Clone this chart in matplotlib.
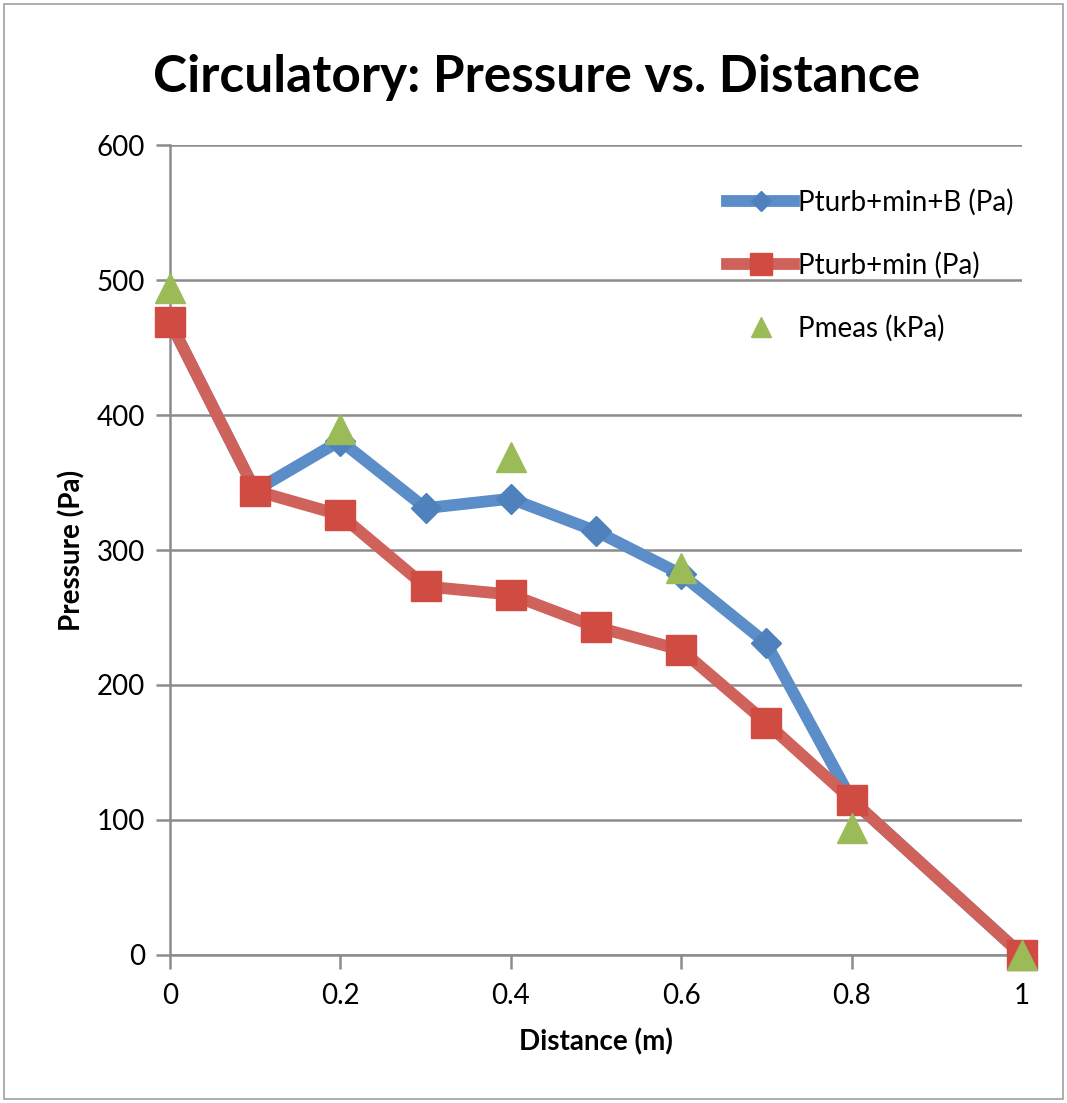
import matplotlib
matplotlib.use('Agg')
import matplotlib.pyplot as plt
from matplotlib.patches import Rectangle

plt.rcParams['font.family'] = ['Lato', 'DejaVu Sans']

# data
distance = [0, 0.1, 0.2, 0.3, 0.4, 0.5, 0.6, 0.7, 0.8, 1.0]
p_turb_min_b = [469, 344, 381, 331, 338, 314, 282, 231, 115, 0]
p_turb_min = [469, 344, 326, 273, 267, 243, 226, 172, 115, 0]
meas_distance = [0, 0.2, 0.4, 0.6, 0.8, 1.0]
p_meas = [494, 390, 369, 287, 94, 0]

blue = '#4F81BD'
red = '#C0504D'
green = '#9BBB59'
grid_col = '#8C8C8C'

fig = plt.figure(figsize=(10.67, 11.03), dpi=100)
ax = fig.add_axes([0.1593, 0.1342, 0.7985, 0.7343])

# outer chart border
fig.patches.append(Rectangle((0.004, 0.004), 0.992, 0.992, transform=fig.transFigure,
                             fill=False, edgecolor='#A0A0A0', linewidth=1.2))

ax.plot(distance, p_turb_min_b, color='#5B8EC9', linewidth=8.5, marker='D',
        markersize=15, markerfacecolor=blue, markeredgecolor=blue,
        label='Pturb+min+B (Pa)', clip_on=False, zorder=3)
ax.plot(distance, p_turb_min, color='#CF625B', linewidth=8.5, marker='s',
        markersize=22, markerfacecolor='#D04B42', markeredgecolor='#D04B42',
        label='Pturb+min (Pa)', clip_on=False, zorder=4)
ax.plot(meas_distance, p_meas, linestyle='none', marker='^', markersize=21,
        markerfacecolor=green, markeredgecolor=green,
        label='Pmeas (kPa)', clip_on=False, zorder=5)

ax.set_xlim(0, 1)
ax.set_ylim(0, 600)
ax.set_xticks([0, 0.2, 0.4, 0.6, 0.8, 1])
ax.set_xticklabels(['0', '0.2', '0.4', '0.6', '0.8', '1'])
ax.set_yticks(range(0, 601, 100))

ax.yaxis.grid(True, color=grid_col, linewidth=1.8)
ax.set_axisbelow(True)
for s in ['top', 'right']:
    ax.spines[s].set_visible(False)
for s in ['left', 'bottom']:
    ax.spines[s].set_color(grid_col)
    ax.spines[s].set_linewidth(1.8)
ax.tick_params(axis='both', colors=grid_col, width=1.8, length=10, labelsize=20,
               labelcolor='black', direction='out')
ax.tick_params(axis='x', pad=10)
ax.tick_params(axis='y', pad=8)

ax.set_xlabel('Distance (m)', fontsize=20, fontweight='bold', labelpad=14)
ax.set_ylabel('Pressure (Pa)', fontsize=20, fontweight='bold', labelpad=8)

fig.text(0.503, 0.930, 'Circulatory: Pressure vs. Distance', ha='center', va='center',
         fontsize=37, fontweight='bold')

leg = ax.legend(loc='upper right', bbox_to_anchor=(1.01, 0.967), frameon=False,
                fontsize=20, handlelength=2.4, handletextpad=0.15, labelspacing=1.3,
                borderaxespad=0.2, markerscale=0.7)

fig.savefig('out.png', dpi=100)
